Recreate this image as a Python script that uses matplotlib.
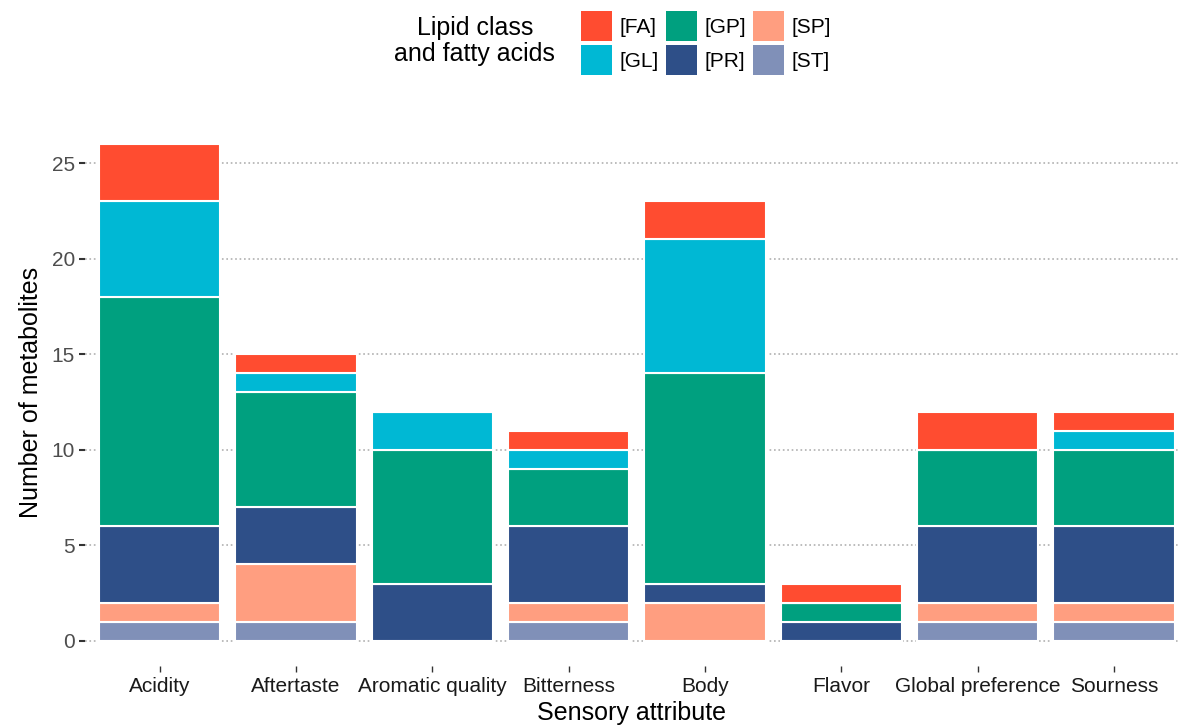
import numpy as np
import matplotlib.pyplot as plt
from matplotlib.patches import Patch

attributes = ["Acidity", "Aftertaste", "Aromatic quality", "Bitterness",
              "Body", "Flavor", "Global preference", "Sourness"]

# counts per lipid class, stacked bottom -> top: ST, SP, PR, GP, GL, FA
st = [1, 1, 0, 1, 0, 0, 1, 1]
sp = [1, 3, 0, 1, 2, 0, 1, 1]
pr = [4, 3, 3, 4, 1, 1, 4, 4]
gp = [12, 6, 7, 3, 11, 1, 4, 4]
gl = [5, 1, 2, 1, 7, 0, 0, 1]
fa = [3, 1, 0, 1, 2, 1, 2, 1]

classes = ["[ST]", "[SP]", "[PR]", "[GP]", "[GL]", "[FA]"]
values = [st, sp, pr, gp, gl, fa]
colors = {"[FA]": "#FF4C30", "[GL]": "#00B8D4", "[GP]": "#00A07F",
          "[PR]": "#2E4F88", "[SP]": "#FF9E80", "[ST]": "#8090B8"}

plt.rcParams['font.family'] = ['Liberation Sans', 'DejaVu Sans']

fig = plt.figure(figsize=(11.78, 7.26), dpi=100)
ax = fig.add_axes([0.072, 0.083, 0.928, 0.753])

x = np.arange(len(attributes))
bottom = np.zeros(len(attributes))
for name, vals in zip(classes, values):
    vals = np.array(vals)
    ax.bar(x, vals, bottom=bottom, width=0.89, color=colors[name],
           edgecolor="white", linewidth=1.5, zorder=2)
    bottom += vals

ax.set_xlim(-0.55, 7.47)
ax.set_ylim(-1.3, 27.3)
ax.set_yticks([0, 5, 10, 15, 20, 25])
ax.set_xticks(x)
ax.set_xticklabels(attributes, fontsize=15, color="#1a1a1a")
ax.tick_params(axis="y", labelsize=15, labelcolor="#4d4d4d", length=4,
               width=1.5, color="#333333", pad=3)
ax.tick_params(axis="x", length=4, width=1, color="#333333", pad=4)
ax.grid(axis="y", linestyle=":", color="#b0b0b0", linewidth=1.2, zorder=0)
ax.set_axisbelow(True)
for s in ax.spines.values():
    s.set_visible(False)

ax.set_xlabel("Sensory attribute", fontsize=18, labelpad=4)
ax.set_ylabel("Number of metabolites", fontsize=18, labelpad=6)

order = ["[FA]", "[GL]", "[GP]", "[PR]", "[SP]", "[ST]"]
handles = [Patch(facecolor=colors[n], edgecolor="none") for n in order]
fig.legend(handles, order, ncol=3, loc="upper left", bbox_to_anchor=(0.477, 1.01),
           frameon=False, fontsize=15, handlelength=1.5, handleheight=1.8,
           handletextpad=0.35, columnspacing=0.35, labelspacing=0.2)
fig.text(0.403, 0.944, "Lipid class\nand fatty acids", ha="center", va="center",
         fontsize=18, linespacing=1.1)

fig.savefig("out.png", dpi=100)
